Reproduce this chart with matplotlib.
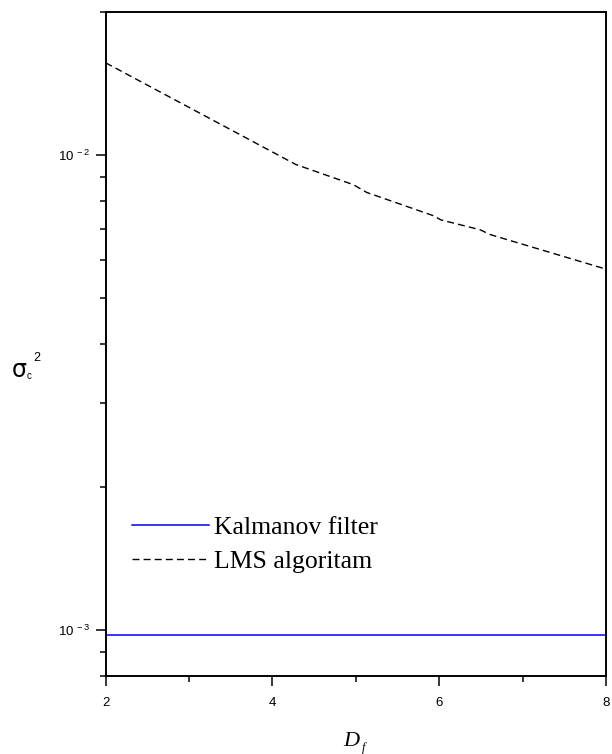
import matplotlib
matplotlib.use("Agg")
import matplotlib.pyplot as plt
from matplotlib.ticker import FixedLocator, FuncFormatter, NullFormatter
import numpy as np

plt.rcParams['mathtext.fontset'] = 'custom'
plt.rcParams['mathtext.rm'] = 'Liberation Sans'
plt.rcParams['mathtext.it'] = 'Liberation Sans:italic'
plt.rcParams['font.family'] = ['Liberation Sans', 'DejaVu Sans']

# data
kalman_x = [2, 8]
kalman_y = [0.000978, 0.000978]
lms_x = [2, 4.28, 4.97, 5.13, 5.93, 6.02, 6.49, 6.61, 8]
lms_y = [0.01563, 0.00955, 0.00866, 0.00834, 0.00745, 0.0073, 0.00696, 0.0068, 0.00575]
labels = ["Kalmanov filter", "LMS algoritam"]
x_ticks = [2, 4, 6, 8]

W, H = 612, 754
fig = plt.figure(figsize=(W / 100, H / 100), dpi=100)
ax = fig.add_axes([105.7 / W, 1 - 676 / H, (606 - 105.7) / W, (676 - 12) / H])

ax.plot(kalman_x, kalman_y, color='#0000ff', lw=1.1, label=labels[0])
ax.plot(lms_x, lms_y, color='black', lw=1.0, dashes=(5, 3), label=labels[1])

ax.set_yscale('log')
ax.set_xlim(2, 8)
ax.set_ylim(0.0008, 0.02)

ax.xaxis.set_major_locator(FixedLocator(x_ticks))
ax.xaxis.set_minor_locator(FixedLocator([3, 5, 7]))
ax.set_xticklabels([str(t) for t in x_ticks])

ax.yaxis.set_major_locator(FixedLocator([1e-3, 1e-2]))
minors = [m * 1e-4 for m in (8, 9)] + [m * 1e-3 for m in range(2, 10)] + [2e-2]
ax.yaxis.set_minor_locator(FixedLocator(minors))
ax.yaxis.set_minor_formatter(NullFormatter())
ax.yaxis.set_major_formatter(FuncFormatter(
    lambda v, p: r'$\mathregular{10^{\ %d}}$' % int(round(np.log10(v)))))

for s in ax.spines.values():
    s.set_linewidth(1.4)
ax.tick_params(which='major', direction='out', length=7, width=1.1,
               labelsize=9.5, top=False, right=False, pad=4)
ax.tick_params(which='minor', direction='out', length=4, width=1.1,
               top=False, right=False)
ax.tick_params(axis='x', which='major', pad=8)

leg = ax.legend(loc='upper left', bbox_to_anchor=(132 / W, 1 - 516 / H),
                bbox_transform=fig.transFigure, frameon=False,
                prop={'family': 'Liberation Serif', 'size': 18.5},
                handlelength=3.0, handletextpad=0.2, labelspacing=0.42,
                borderpad=0, borderaxespad=0)

# axis labels
fig.text(343 / W, 1 - 746 / H, 'D', fontsize=16, style='italic',
         family='Liberation Serif', ha='left', va='baseline')
fig.text(362 / W, 1 - 751 / H, 'f', fontsize=9, style='italic',
         family='Liberation Serif', ha='left', va='baseline')

fig.text(12 / W, 1 - 377 / H, 'σ', fontsize=17, family='DejaVu Sans',
         ha='left', va='baseline')
fig.text(27 / W, 1 - 379 / H, 'c', fontsize=7, ha='left', va='baseline')
fig.text(33 / W, 1 - 361 / H, '2', fontsize=9, ha='left', va='baseline')

fig.savefig('out.png', dpi=100)
